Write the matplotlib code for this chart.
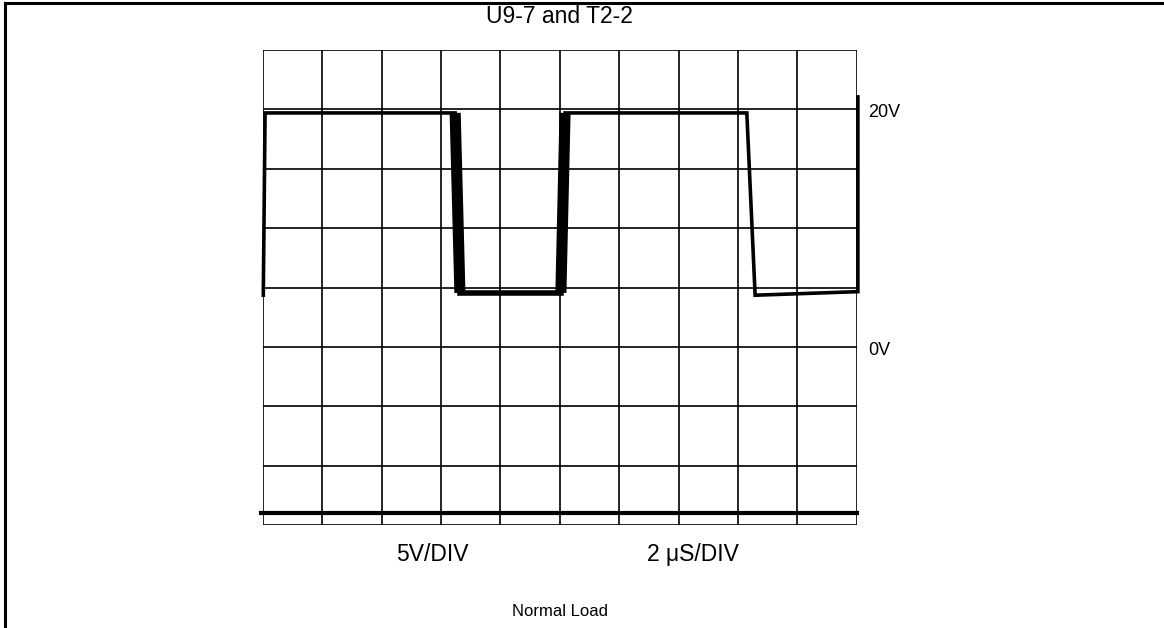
import matplotlib
matplotlib.use("Agg")
import matplotlib.pyplot as plt
from matplotlib.lines import Line2D

plt.rcParams["font.family"] = ["Liberation Sans", "DejaVu Sans"]

# scope screen: 10 x 8 divisions
N_XDIV = 10
N_YDIV = 8

# trace, in divisions (time, volts)
trace_t = [0.01, 0.04, 3.24, 3.32, 5.02, 5.09, 8.15, 8.29, 10.02, 10.02]
trace_v = [3.87, 6.94, 6.94, 3.91, 3.91, 6.94, 6.94, 3.87, 3.93, 7.21]
# fast edges that smear on the screen (index pairs into the trace)
smeared_edges = [(2, 3), (4, 5)]

# ground reference trace
ground_t = [-0.03, 10.0]
ground_v = [0.21, 0.21]

title = "U9-7 and T2-2"
caption = "Normal Load"
volt_labels = [("20V", 6.87), ("0V", 2.86)]
scale_labels = [("5V/DIV", 2.85), ("2 \u03bcS/DIV", 7.25)]

fig = plt.figure(figsize=(11.64, 6.28), dpi=100)
ax = fig.add_axes([262.7 / 1164, 103 / 628, 594 / 1164, 475 / 628])
ax.set_xlim(0, N_XDIV)
ax.set_ylim(0, N_YDIV)

# graticule
for i in range(N_XDIV + 1):
    ax.axvline(i, color="black", lw=1.2, zorder=1)
for j in range(N_YDIV + 1):
    ax.axhline(j, color="black", lw=1.2, zorder=1)
ax.set_xticks([])
ax.set_yticks([])
for s in ax.spines.values():
    s.set_visible(False)

ax.plot(trace_t, trace_v, color="black", lw=2.6, solid_joinstyle="miter",
        clip_on=False, zorder=3)
for a, b in smeared_edges:
    ax.plot(trace_t[a:b + 1], trace_v[a:b + 1], color="black", lw=8.0,
            solid_capstyle="butt", clip_on=False, zorder=3)
ax.plot(trace_t[3:5], trace_v[3:5], color="black", lw=4.0, clip_on=False, zorder=3)
ax.plot(ground_t, ground_v, color="black", lw=3.0, clip_on=False, zorder=3)

ax.text(5.0, 8.45, title, ha="center", va="baseline", fontsize=16.5)
for txt, v in volt_labels:
    ax.text(10.2, v, txt, ha="left", va="baseline", fontsize=13)
for txt, t in scale_labels:
    ax.text(t, -0.60, txt, ha="center", va="baseline", fontsize=16.5)
ax.text(5.0, -1.53, caption, ha="center", va="baseline", fontsize=12)

# frame: top and left edges only
fig.add_artist(Line2D([5 / 1164, 5 / 1164], [0, 1 - 3 / 628], color="black", lw=2.2,
                      transform=fig.transFigure, solid_capstyle="projecting"))
fig.add_artist(Line2D([5 / 1164, 1], [1 - 3 / 628, 1 - 3 / 628], color="black", lw=2.2,
                      transform=fig.transFigure, solid_capstyle="projecting"))

fig.savefig("out.png", dpi=100)
